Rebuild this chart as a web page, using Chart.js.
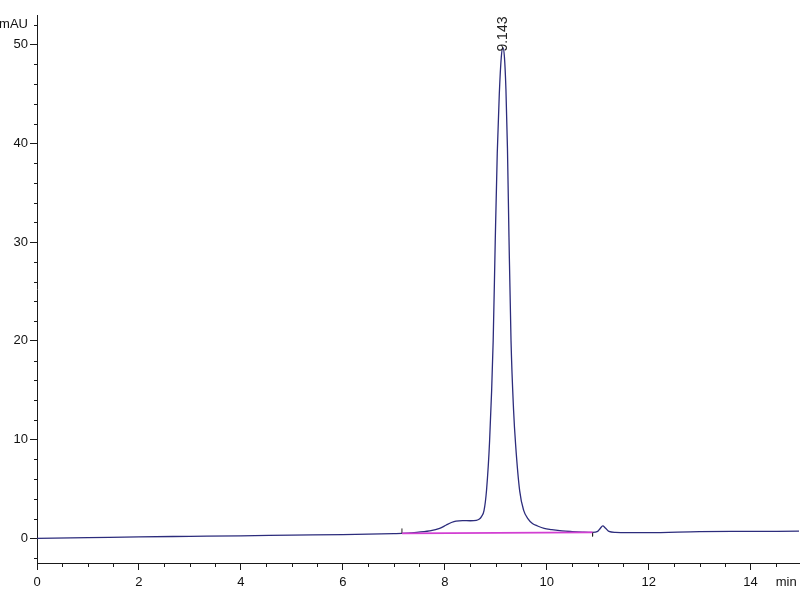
<!DOCTYPE html>
<html>
<head>
<meta charset="utf-8">
<script src="https://cdn.jsdelivr.net/npm/chart.js@4.4.1/dist/chart.umd.min.js"></script>
<style>
  body { margin: 0; background: #fff; }
  #wrap { width: 800px; height: 600px; }
</style>
</head>
<body>
<div id="wrap"><canvas id="chrom"></canvas></div>
<script>
// retention time (min) and signal (mAU)
const times = [0.0, 1.0, 2.0, 3.0, 4.0, 5.0, 6.0, 7.0, 7.16, 7.4, 7.7, 7.9, 8.03, 8.13, 8.22, 8.35, 8.5, 8.62, 8.68,
  8.72, 8.77, 8.82, 8.88, 8.95, 8.99, 9.03, 9.07, 9.11, 9.14, 9.17, 9.2, 9.23, 9.26, 9.3, 9.35, 9.39, 9.47, 9.55,
  9.63, 9.72, 9.82, 9.95, 10.1, 10.3, 10.5, 10.7, 10.9, 11.0, 11.05, 11.1, 11.15, 11.22, 11.35, 11.6, 12.0, 13.0,
  14.0, 14.95];
const absorbance = [0.0, 0.07, 0.15, 0.2, 0.25, 0.32, 0.38, 0.48, 0.5, 0.58, 0.75, 1.0, 1.35, 1.6, 1.75, 1.8, 1.78,
  1.82, 1.95, 2.2, 2.8, 4.9, 9.9, 20.0, 30.0, 39.0, 45.0, 48.8, 49.7, 48.8, 45.5, 39.5, 30.5, 20.0, 13.0, 9.5, 4.8,
  2.8, 2.0, 1.5, 1.25, 1.0, 0.88, 0.75, 0.68, 0.63, 0.6, 0.7, 1.0, 1.25, 1.05, 0.7, 0.6, 0.58, 0.58, 0.68, 0.7, 0.72];

// integration baseline of the main peak
const baseTimes = [7.16, 10.9];
const baseValues = [0.5, 0.6];
// start / end marks of the integration
const startMark = [0.5, 1.0];
const endMark = [0.6, 0.2];

const peakTimes = [9.143];
const peakHeights = [49.7];
const peakLabels = ['9.143'];

const xMajor = [0, 2, 4, 6, 8, 10, 12, 14];
const yMajor = [0, 10, 20, 30, 40, 50];
const xUnit = { value: 14.7, label: 'min' };
const yUnit = { value: 52, label: 'mAU' };

const axisColor = '#1a1a1a';
const font = { family: "'Liberation Sans', Arial, sans-serif", size: 13 };

function pts(xs, ys) {
  return xs.map((x, i) => ({ x: x, y: ys[i] }));
}

function xTickList() {
  const list = [];
  for (let v = 0; v <= 14.5; v += 0.5) list.push({ value: v });
  list.push({ value: xUnit.value });
  return list;
}
function yTickList() {
  const list = [];
  for (let v = -2; v <= 52; v += 2) list.push({ value: v });
  return list;
}

// short minor ticks + peak label
const extras = {
  id: 'extras',
  afterDraw(chart) {
    const ctx = chart.ctx;
    const xs = chart.scales.x, ys = chart.scales.y;
    ctx.save();
    ctx.strokeStyle = axisColor;
    ctx.lineWidth = 1;
    ctx.beginPath();
    xs.ticks.forEach(t => {
      if (t.value === xUnit.value || xMajor.includes(t.value)) return;
      const px = Math.round(xs.getPixelForValue(t.value)) + 0.5;
      ctx.moveTo(px, xs.top);
      ctx.lineTo(px, xs.top + 4);
    });
    ys.ticks.forEach(t => {
      if (yMajor.includes(t.value)) return;
      const py = Math.round(ys.getPixelForValue(t.value)) + 0.5;
      ctx.moveTo(ys.right - 3, py);
      ctx.lineTo(ys.right, py);
    });
    ctx.stroke();

    ctx.fillStyle = '#222';
    ctx.font = "14px 'Liberation Sans', Arial, sans-serif";
    ctx.textAlign = 'left';
    ctx.textBaseline = 'middle';
    peakTimes.forEach((t, i) => {
      ctx.save();
      ctx.translate(xs.getPixelForValue(t), ys.getPixelForValue(peakHeights[i]) + 4);
      ctx.rotate(-Math.PI / 2);
      ctx.fillText(peakLabels[i], 0, 0);
      ctx.restore();
    });
    ctx.restore();
  }
};

new Chart(document.getElementById('chrom'), {
  type: 'line',
  data: {
    datasets: [
      {
        data: pts(baseTimes, baseValues),
        borderColor: '#d23fd2',
        borderWidth: 1.6,
        pointRadius: 0
      },
      {
        data: pts([baseTimes[0], baseTimes[0]], startMark),
        borderColor: '#222',
        borderWidth: 1,
        pointRadius: 0
      },
      {
        data: pts([baseTimes[1], baseTimes[1]], endMark),
        borderColor: '#222',
        borderWidth: 1,
        pointRadius: 0
      },
      {
        data: pts(times, absorbance),
        borderColor: '#2c2c7c',
        borderWidth: 1.3,
        pointRadius: 0,
        cubicInterpolationMode: 'monotone'
      }
    ]
  },
  options: {
    responsive: true,
    maintainAspectRatio: false,
    animation: false,
    layout: { padding: { top: 15, right: 1, bottom: 0, left: 0 } },
    plugins: {
      legend: { display: false },
      tooltip: { enabled: false }
    },
    scales: {
      x: {
        type: 'linear',
        min: 0,
        max: 14.95,
        afterBuildTicks: s => { s.ticks = xTickList(); },
        afterFit: s => { s.height = 37; s.paddingLeft = 0; s.paddingRight = 0; },
        grid: {
          drawOnChartArea: false,
          tickLength: 7,
          tickColor: c => xMajor.includes(c.tick.value) ? axisColor : 'rgba(0,0,0,0)'
        },
        border: { color: axisColor, width: 1 },
        ticks: {
          autoSkip: false,
          maxRotation: 0,
          padding: 5,
          color: '#111',
          font: font,
          callback: v => v === xUnit.value ? xUnit.label : (xMajor.includes(v) ? String(v) : '')
        }
      },
      y: {
        min: -2.5,
        max: 53,
        afterBuildTicks: s => { s.ticks = yTickList(); },
        afterFit: s => { s.width = 37; },
        grid: {
          drawOnChartArea: false,
          tickLength: 7,
          tickColor: c => yMajor.includes(c.tick.value) ? axisColor : 'rgba(0,0,0,0)'
        },
        border: { color: axisColor, width: 1 },
        ticks: {
          autoSkip: false,
          padding: 2,
          color: '#111',
          font: font,
          callback: v => v === yUnit.value ? yUnit.label : (yMajor.includes(v) ? String(v) : '')
        }
      }
    }
  },
  plugins: [extras]
});
</script>
</body>
</html>
